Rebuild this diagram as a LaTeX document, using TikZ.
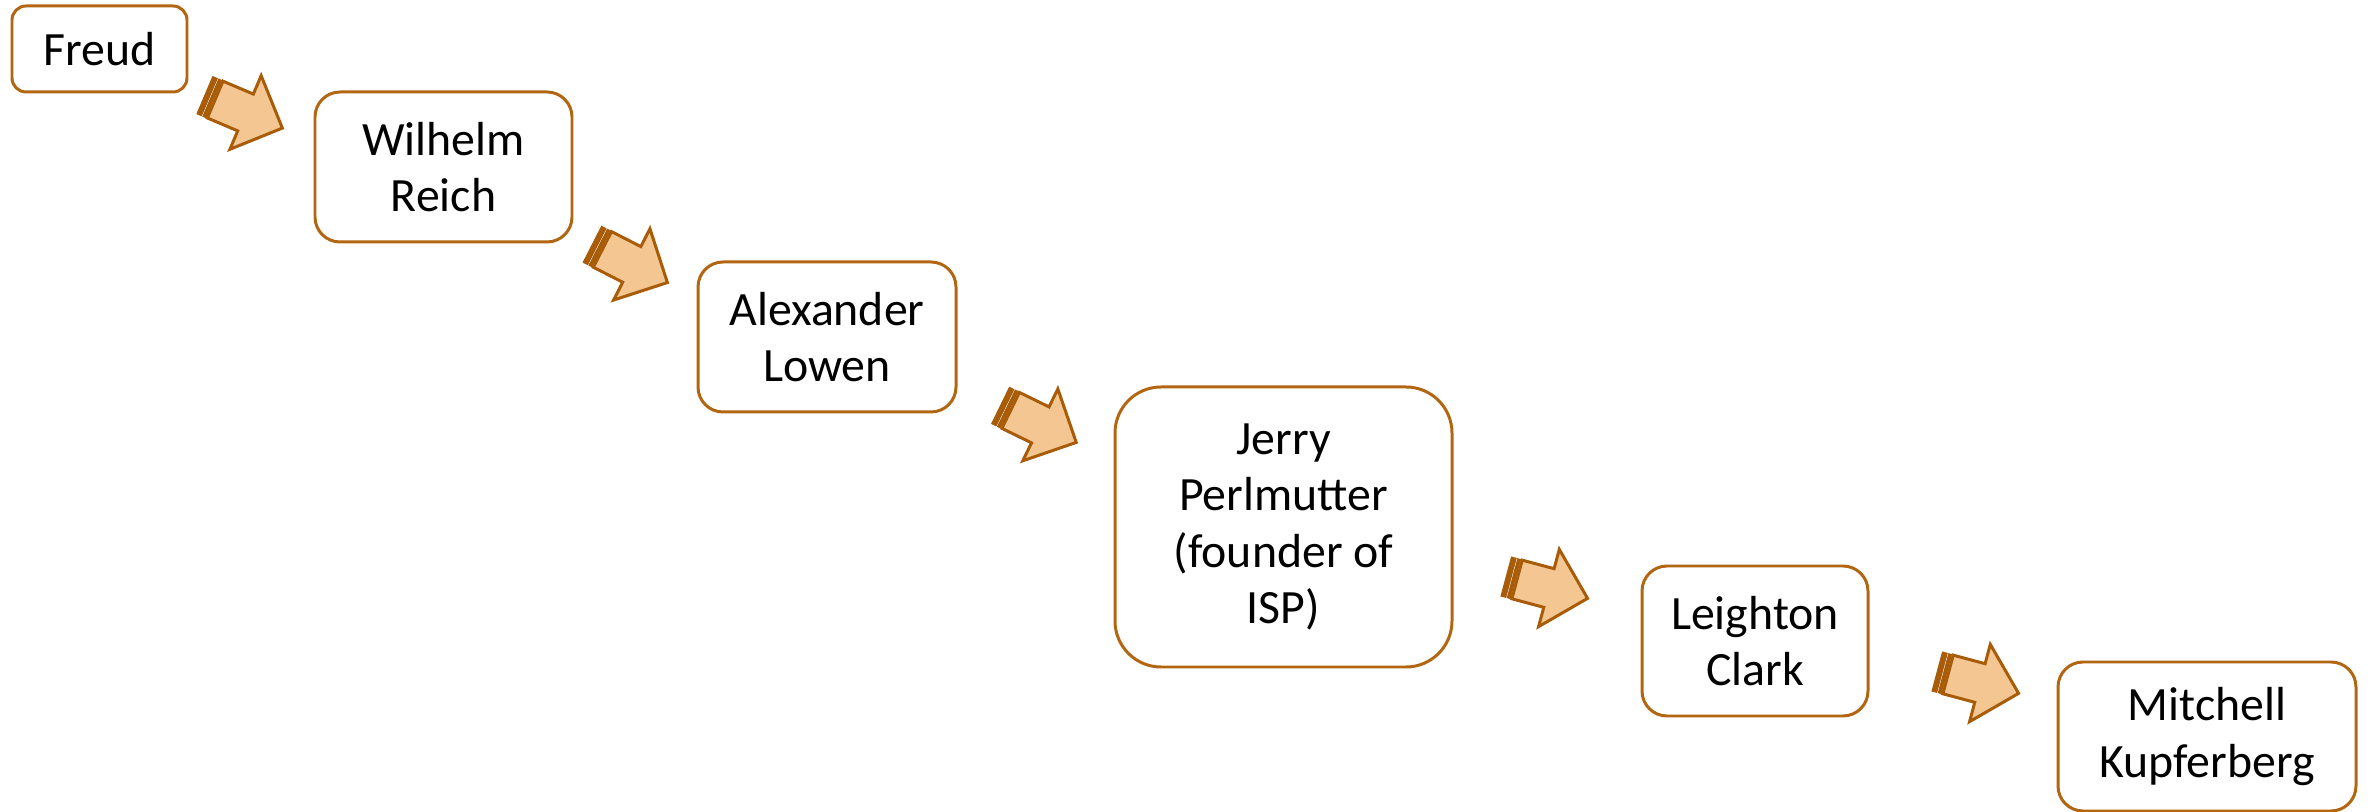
\documentclass[tikz,border=0pt]{standalone}
\usepackage{fontspec}
\setmainfont{Carlito}
\usepackage{xcolor}
\usepackage{tikz}
\definecolor{boxline}{RGB}{178,102,18}
\definecolor{arrowfill}{RGB}{244,198,146}
\definecolor{arrowline}{RGB}{168,92,8}
\tikzset{
    person/.style={
        rectangle,
        draw=boxline,
        line width=0.85pt,
        fill=white,
        align=center,
        inner sep=0pt,
        minimum height=1.5cm,
        rounded corners=0.25cm,
        font=\fontsize{13.6}{16}\selectfont
    },
    arrowstripe/.style={
        fill=arrowline,
        draw=arrowline,
        line width=0.4pt
    },
    arrowbody/.style={
        fill=arrowfill,
        draw=arrowline,
        line width=0.85pt,
        line join=miter
    },
    stripedarrow/.pic={
        \filldraw[arrowstripe] (-0.42,-0.2) rectangle (-0.375,0.2);
        \filldraw[arrowstripe] (-0.355,-0.2) rectangle (-0.33,0.2);
        \filldraw[arrowbody] (-0.31,0.2) -- (0.02,0.2) -- (0.02,0.4) -- (0.42,0) -- (0.02,-0.4) -- (0.02,-0.2) -- (-0.31,-0.2) -- cycle;
    }
}

\begin{document}
\begin{tikzpicture}

\useasboundingbox (0,0) rectangle (23.72,-8.12);

% People
\node[person, minimum width=1.75cm, minimum height=0.86cm, rounded corners=0.14cm] (freud) at (0.995,-0.49) {Freud};
\node[person, minimum width=2.57cm] (wilhelm) at (4.435,-1.67) {Wilhelm\\Reich};
\node[person, minimum width=2.58cm] (alexander) at (8.27,-3.37) {Alexander\\Lowen};
\node[person, minimum width=3.37cm, minimum height=2.8cm, rounded corners=0.46cm] (jerry) at (12.835,-5.27) {Jerry\\Perlmutter\\(founder of\\ISP)};
\node[person, minimum width=2.26cm] (leighton) at (17.55,-6.41) {Leighton\\Clark};
\node[person, minimum width=2.98cm, minimum height=1.49cm] (mitchell) at (22.07,-7.365) {Mitchell\\Kupferberg};

% Arrows between people
\foreach \x/\y/\a in {2.437/-1.117/-23, 6.30/-2.635/-27, 10.385/-4.24/-26, 15.47/-5.875/-15, 19.78/-6.825/-15} {
    \pic[rotate=\a] at (\x,\y) {stripedarrow};
}

\end{tikzpicture}
\end{document}
